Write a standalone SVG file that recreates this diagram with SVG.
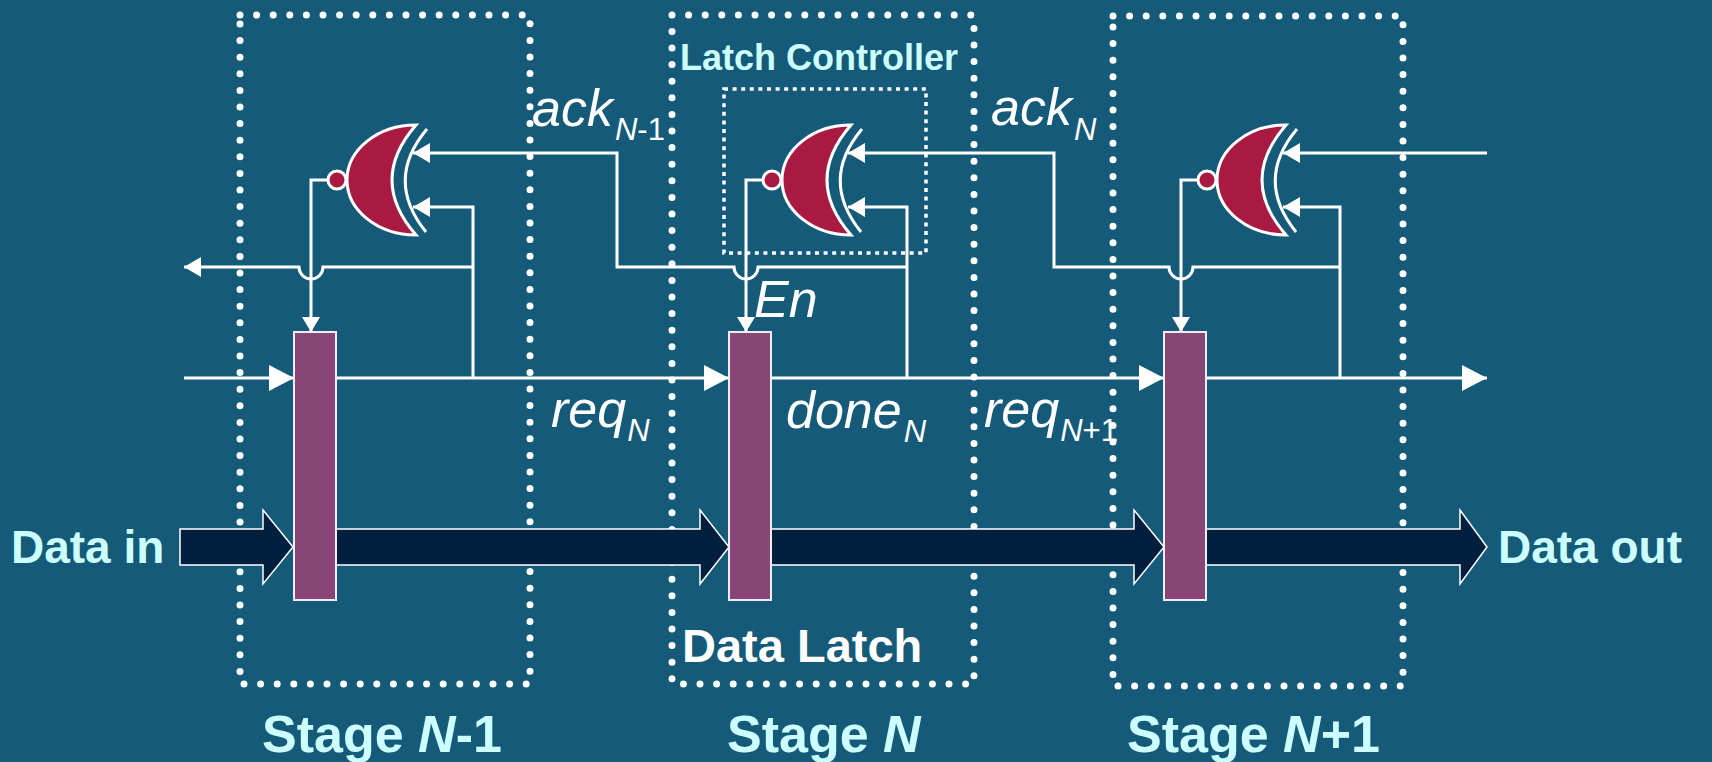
<svg xmlns="http://www.w3.org/2000/svg" width="1712" height="762" viewBox="0 0 1712 762">
  <defs>
    <marker id="ahS" markerUnits="userSpaceOnUse" markerWidth="18" markerHeight="20" refX="17" refY="10" orient="auto">
      <path d="M0,0 L17,10 L0,20 Z" fill="#ffffff"/>
    </marker>
    <marker id="ahL" markerUnits="userSpaceOnUse" markerWidth="26" markerHeight="26" refX="25" refY="13" orient="auto">
      <path d="M0,0 L25,13 L0,26 Z" fill="#ffffff"/>
    </marker>
    <marker id="ahD" markerUnits="userSpaceOnUse" markerWidth="16" markerHeight="18" refX="15" refY="9" orient="auto">
      <path d="M0,0 L15,9 L0,18 Z" fill="#ffffff"/>
    </marker>
  </defs>
  <style>
    .dots { fill: none; stroke: #ffffff; stroke-width: 7; stroke-linecap: round; stroke-dasharray: 0 16.6; }
    .dots2 { fill: none; stroke: #ffffff; stroke-width: 3.5; stroke-dasharray: 4 4.6; }
    .w { fill: none; stroke: #ffffff; stroke-width: 3; }
    .gate { fill: #a91a42; stroke: #ffffff; stroke-width: 3; stroke-linejoin: miter; }
    .xl { fill: none; stroke: #ffffff; stroke-width: 3; }
    .latch { fill: #874677; stroke: #eeeeee; stroke-width: 2; }
    .data { fill: #001f3f; stroke: #ffffff; stroke-width: 1.5; }
    .lbl { font-family: "Liberation Sans", Arial, sans-serif; font-weight: bold; fill: #ccffff; }
    .lblw { font-family: "Liberation Sans", Arial, sans-serif; font-weight: bold; fill: #ffffff; }
    .it { font-family: "Liberation Sans", Arial, sans-serif; font-style: italic; fill: #ffffff; font-size: 52px; }
    .sub { font-size: 31px; }
    .up { font-style: normal; }
  </style>
  <rect x="0" y="0" width="1712" height="762" fill="#155a78"/>

  <g id="stage-boxes">
    <path id="box-n-1" class="dots" d="M240,15 H530 V684 H240 Z"/>
    <path id="box-n" class="dots" d="M672,15 H974 V684 H672 Z"/>
    <path id="box-n1" class="dots" d="M1113,16 H1403 V686 H1113 Z"/>
    <path id="box-lc" class="dots2" d="M724,89 H926 V253 H724 Z"/>
  </g>

  <g id="connectors">
    <path class="w" d="M184,378 H294" marker-end="url(#ahL)"/>
    <path class="w" d="M336,378 H729" marker-end="url(#ahL)"/>
    <path class="w" d="M771,378 H1164" marker-end="url(#ahL)"/>
    <path class="w" d="M1206,378 H1487" marker-end="url(#ahL)"/>
    <path class="w" d="M328,180 H311 V332" marker-end="url(#ahD)"/>
    <path class="w" d="M763,180 H746 V332" marker-end="url(#ahD)"/>
    <path class="w" d="M1198,180 H1181 V332" marker-end="url(#ahD)"/>
    <path class="w" d="M473,378 V207 H413" marker-end="url(#ahS)"/>
    <path class="w" d="M907,378 V207 H848" marker-end="url(#ahS)"/>
    <path class="w" d="M1340,378 V207 H1283" marker-end="url(#ahS)"/>
    <path class="w" d="M473,267 H323 A12,12 0 0 1 299,267 H184" marker-end="url(#ahS)"/>
    <path class="w" d="M907,267 H758 A12,12 0 0 1 734,267 H617 V153 H413" marker-end="url(#ahS)"/>
    <path class="w" d="M1340,267 H1193 A12,12 0 0 1 1169,267 H1054 V153 H848" marker-end="url(#ahS)"/>
    <path class="w" d="M1487,153 H1283" marker-end="url(#ahS)"/>
  </g>

  <g id="data-path">
    <path id="data-in-arrow" class="data" d="M180,529 H263 V510 L293,547 L263,584 V565 H180 Z"/>
    <path class="data" d="M330,529 H700 V510 L729,547 L700,584 V565 H330 Z"/>
    <path class="data" d="M765,529 H1134 V510 L1164,547 L1134,584 V565 H765 Z"/>
    <path id="data-out-arrow" class="data" d="M1200,529 H1460 V510 L1487,547 L1460,584 V565 H1200 Z"/>
  </g>

  <g id="gate-n-1">
    <path class="gate" d="M416,125 Q368,180 416,235 A69,55 0 0 1 347,180 A69,55 0 0 1 416,125 Z"/>
    <path class="xl" d="M427,129 Q384,180 426,232"/>
    <circle class="gate" cx="337" cy="180" r="9"/>
  </g>
  <g id="gate-n">
    <path class="gate" d="M851,125 Q803,180 851,235 A69,55 0 0 1 782,180 A69,55 0 0 1 851,125 Z"/>
    <path class="xl" d="M862,129 Q819,180 861,232"/>
    <circle class="gate" cx="772" cy="180" r="9"/>
  </g>
  <g id="gate-n1">
    <path class="gate" d="M1286,125 Q1238,180 1286,235 A69,55 0 0 1 1217,180 A69,55 0 0 1 1286,125 Z"/>
    <path class="xl" d="M1297,129 Q1254,180 1296,232"/>
    <circle class="gate" cx="1207" cy="180" r="9"/>
  </g>

  <g id="latch-n-1"><rect class="latch" x="294" y="332" width="42" height="268"/></g>
  <g id="latch-n"><rect class="latch" x="729" y="332" width="42" height="268"/></g>
  <g id="latch-n1"><rect class="latch" x="1164" y="332" width="42" height="268"/></g>

  <g id="labels">
    <text class="lbl" x="680" y="70" font-size="36">Latch Controller</text>
    <text class="lbl" x="11" y="563" font-size="46">Data in</text>
    <text class="lbl" x="1498" y="563" font-size="46">Data out</text>
    <text class="lblw" x="682" y="662" font-size="47">Data Latch</text>
    <text class="lbl" x="262" y="752" font-size="52">Stage <tspan font-style="italic">N</tspan>-1</text>
    <text class="lbl" x="727" y="752" font-size="52">Stage <tspan font-style="italic">N</tspan></text>
    <text class="lbl" x="1127" y="752" font-size="52">Stage <tspan font-style="italic">N</tspan>+1</text>

    <text class="it" x="532" y="126">ack<tspan class="sub" dx="2" dy="14">N<tspan class="up">-1</tspan></tspan></text>
    <text class="it" x="991" y="125">ack<tspan class="sub" dx="2" dy="15">N</tspan></text>
    <text class="it" x="754" y="317" font-size="45">En</text>
    <text class="it" x="551" y="427">req<tspan class="sub" dx="1" dy="14">N</tspan></text>
    <text class="it" x="786" y="428">done<tspan class="sub" dx="2" dy="14">N</tspan></text>
    <text class="it" x="984" y="427">req<tspan class="sub" dx="1" dy="14">N<tspan class="up">+1</tspan></tspan></text>
  </g>
</svg>
